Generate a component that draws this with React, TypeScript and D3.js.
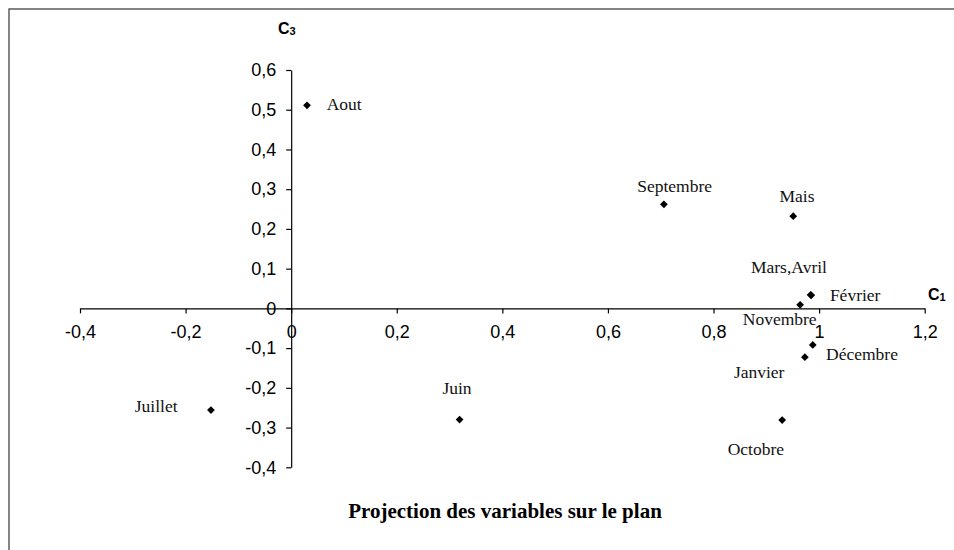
import React, { useEffect, useRef } from 'react';
import * as d3 from 'd3';

// Months projected on the (C1, C3) plane
const months = ['Aout', 'Septembre', 'Mais', 'Mars,Avril', 'Février', 'Novembre', 'Décembre', 'Janvier', 'Octobre', 'Juin', 'Juillet'];
const c1Values = [0.03, 0.706, 0.951, 0.984, 0.985, 0.964, 0.988, 0.973, 0.93, 0.319, -0.152];
const c3Values = [0.511, 0.262, 0.232, 0.034, 0.033, 0.009, -0.092, -0.123, -0.281, -0.28, -0.256];

const xTicks = [-0.4, -0.2, 0, 0.2, 0.4, 0.6, 0.8, 1, 1.2];
const yTicks = [-0.4, -0.3, -0.2, -0.1, 0, 0.1, 0.2, 0.3, 0.4, 0.5, 0.6];

// label placement relative to each point: [dx, dy, anchor]
const labelPlacement: Record<string, [number, number, string]> = {
  'Aout': [19.7, 4.7, 'start'],
  'Septembre': [10.7, -12.6, 'middle'],
  'Mais': [3.7, -14.3, 'middle'],
  'Mars,Avril': [-21.7, -21.7, 'middle'],
  'Février': [18.7, 5.7, 'start'],
  'Novembre': [-20.4, 20.3, 'middle'],
  'Décembre': [13.3, 15, 'start'],
  'Janvier': [-45.7, 21, 'middle'],
  'Octobre': [-26.3, 35, 'middle'],
  'Juin': [-2.6, -26, 'middle'],
  'Juillet': [-33.4, 1.7, 'end'],
};

const W = 954;
const H = 550;

const fmt = (v: number) => String(+v.toFixed(1)).replace('.', ',');

export default function App() {
  const ref = useRef<SVGSVGElement>(null);

  useEffect(() => {
    document.body.style.margin = '0';
    if (!ref.current) return;
    const svg = d3.select(ref.current);
    svg.selectAll('*').remove();

    const x = d3.scaleLinear().domain([-0.4, 1.2]).range([80, 924.7]);
    const y = d3.scaleLinear().domain([-0.4, 0.6]).range([467.3, 70]);

    // outer frame (cut off at right and bottom)
    svg.append('rect')
      .attr('x', 9)
      .attr('y', 9)
      .attr('width', 1000)
      .attr('height', 600)
      .attr('fill', 'white')
      .attr('stroke', '#444')
      .attr('stroke-width', 1.3);

    const xAxis = svg.append('g')
      .attr('transform', `translate(0,${y(0)})`)
      .call(d3.axisBottom(x).tickValues(xTicks).tickFormat((d) => fmt(d as number)).tickSize(5).tickSizeOuter(0).tickPadding(12));

    const yAxis = svg.append('g')
      .attr('transform', `translate(${x(0)},0)`)
      .call(d3.axisLeft(y).tickValues(yTicks).tickFormat((d) => fmt(d as number)).tickSize(5).tickSizeOuter(0).tickPadding(10));

    [xAxis, yAxis].forEach((ax) => {
      ax.selectAll('path, line').attr('stroke', '#000').attr('stroke-width', 1.2);
      ax.selectAll('text')
        .attr('fill', '#000')
        .style('font-family', '"Liberation Sans", Arial, sans-serif')
        .style('font-size', '18px');
    });

    // axis names
    const c3 = svg.append('text')
      .attr('x', 278)
      .attr('y', 34)
      .style('font-family', '"Liberation Sans", Arial, sans-serif')
      .style('font-weight', 'bold')
      .style('font-size', '16px');
    c3.append('tspan').text('C');
    c3.append('tspan').attr('dy', 1).style('font-size', '11px').text('3');

    const c1 = svg.append('text')
      .attr('x', 928)
      .attr('y', 300)
      .style('font-family', '"Liberation Sans", Arial, sans-serif')
      .style('font-weight', 'bold')
      .style('font-size', '16px');
    c1.append('tspan').text('C');
    c1.append('tspan').attr('dy', 1).style('font-size', '11px').text('1');

    const pts = months.map((name, i) => ({ name, c1: c1Values[i], c3: c3Values[i] }));
    const diamond = d3.symbol().type(d3.symbolSquare).size(30);

    svg.append('g')
      .selectAll('path')
      .data(pts)
      .enter()
      .append('path')
      .attr('d', diamond() as string)
      .attr('transform', (d) => `translate(${x(d.c1)},${y(d.c3)}) rotate(45)`)
      .attr('fill', '#000');

    svg.append('g')
      .selectAll('text')
      .data(pts)
      .enter()
      .append('text')
      .attr('x', (d) => x(d.c1) + labelPlacement[d.name][0])
      .attr('y', (d) => y(d.c3) + labelPlacement[d.name][1])
      .attr('text-anchor', (d) => labelPlacement[d.name][2])
      .style('font-family', '"Liberation Serif", "Times New Roman", serif')
      .style('font-size', '17.5px')
      .attr('fill', '#111')
      .text((d) => d.name);

    svg.append('text')
      .attr('x', 505)
      .attr('y', 518)
      .attr('text-anchor', 'middle')
      .style('font-family', '"Liberation Serif", "Times New Roman", serif')
      .style('font-weight', 'bold')
      .style('font-size', '21px')
      .text('Projection des variables sur le plan');
  }, []);

  return <svg ref={ref} width={W} height={H} style={{ display: 'block', background: 'white' }} />;
}
